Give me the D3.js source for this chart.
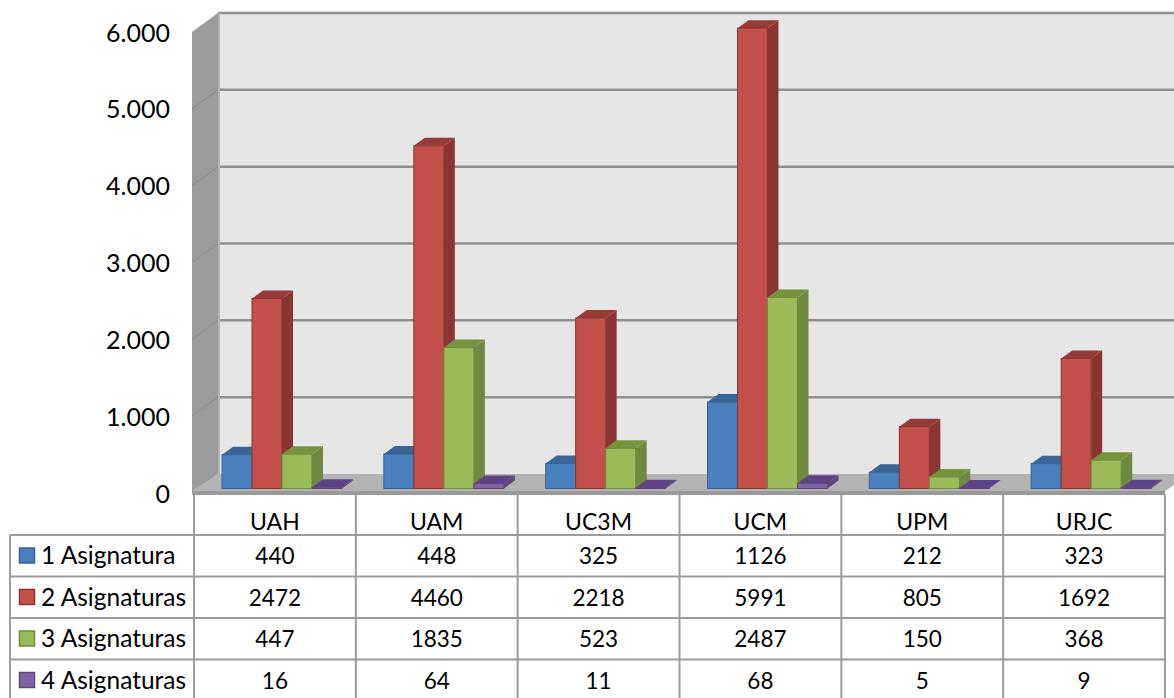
<!DOCTYPE html>
<html>
<head>
<meta charset="utf-8">
<script src="https://cdn.jsdelivr.net/npm/d3@7"></script>
<style>
    html, body { margin: 0; padding: 0; background: #fff; overflow: hidden; }
    text { font-family: Lato, "Open Sans", sans-serif; fill: #000; }
    .y-axis path, .y-axis line { display: none; }
</style>
</head>
<body>
<div id="chart"></div>
<script>
// Data
const universities = ['UAH', 'UAM', 'UC3M', 'UCM', 'UPM', 'URJC'];
const seriesNames = ['1 Asignatura', '2 Asignaturas', '3 Asignaturas', '4 Asignaturas'];
const asignatura1 = [440, 448, 325, 1126, 212, 323];
const asignatura2 = [2472, 4460, 2218, 5991, 805, 1692];
const asignatura3 = [447, 1835, 523, 2487, 150, 368];
const asignatura4 = [16, 64, 11, 68, 5, 9];
const seriesValues = [asignatura1, asignatura2, asignatura3, asignatura4];
const yTicks = [0, 1000, 2000, 3000, 4000, 5000, 6000];

const width = 1174;
const height = 698;

// Colors per series: front, side, top
const frontColors = ['#4a80c0', '#c4504c', '#9bbb59', '#8064a2'];
const sideColors = ['#37618f', '#8b3533', '#6f8a3e', '#5b4676'];
const topColors = ['#3a6597', '#973b38', '#77933c', '#5f4388'];

// 3D offsets of the back plane and of the bars
const depthX = 26, depthY = 19;
const barDepthX = 11, barDepthY = 8;
const barLift = 4.5;

const svg = d3.select('#chart').append('svg')
    .attr('width', width)
    .attr('height', height);

// Scales
const yScale = d3.scaleLinear().domain([0, 6000]).range([493, 32]);
const xScale = d3.scaleBand().domain(universities).range([194, 1165]);
const seriesScale = d3.scaleBand().domain(d3.range(seriesNames.length)).range([28, 148]);

const left = xScale.range()[0];
const right = xScale.range()[1];
const poly = pts => pts.map(p => p.join(',')).join(' ');

// Walls and floor
svg.append('rect')
    .attr('x', left + depthX - 2).attr('y', yScale(6000) - depthY)
    .attr('width', width).attr('height', yScale(0) - yScale(6000))
    .attr('fill', '#e6e6e6');

svg.append('polygon')
    .attr('points', poly([[left - 2, yScale(6000)], [left + depthX - 2, yScale(6000) - depthY],
        [left + depthX - 2, yScale(0) - depthY], [left - 2, yScale(0)]]))
    .attr('fill', '#9b9b9b');

svg.append('polygon')
    .attr('points', poly([[left - 2, yScale(0) - 2], [left + depthX - 2, yScale(0) - depthY],
        [right + depthX, yScale(0) - depthY], [right, yScale(0) - 2]]))
    .attr('fill', '#b3b3b3');

svg.append('rect')
    .attr('x', left - 2).attr('y', yScale(0) - 2)
    .attr('width', right - left + 2).attr('height', 4)
    .attr('fill', '#999');

// Gridlines on back plane and left wall
svg.selectAll('.grid')
    .data(yTicks.slice(1))
    .enter().append('line')
    .attr('class', 'grid')
    .attr('x1', left + depthX - 2).attr('x2', width)
    .attr('y1', d => yScale(d) - depthY).attr('y2', d => yScale(d) - depthY)
    .attr('stroke', '#8f8f8f').attr('stroke-width', 2.5);

svg.selectAll('.wall-grid')
    .data(yTicks.slice(1, -1))
    .enter().append('line')
    .attr('class', 'wall-grid')
    .attr('x1', left - 2).attr('x2', left + depthX - 2)
    .attr('y1', d => yScale(d)).attr('y2', d => yScale(d) - depthY)
    .attr('stroke', '#8a8a8a').attr('stroke-width', 1);

svg.append('line')
    .attr('x1', left + depthX - 1).attr('x2', left + depthX - 1)
    .attr('y1', yScale(6000) - depthY).attr('y2', yScale(0) - depthY)
    .attr('stroke', '#b5b5b5').attr('stroke-width', 2);

// Bars, drawn left to right so later fronts cover earlier sides
universities.forEach((uni, c) => {
    seriesNames.forEach((name, s) => {
        const x0 = xScale(uni) + seriesScale(s);
        const x1 = x0 + seriesScale.bandwidth();
        const yTop = yScale(seriesValues[s][c]) - barLift;
        const yBase = yScale(0) - barLift;

        const bar = svg.append('g').attr('class', 'bar');
        bar.append('polygon')
            .attr('points', poly([[x1, yTop], [x1 + barDepthX, yTop - barDepthY],
                [x1 + barDepthX, yBase - barDepthY], [x1, yBase]]))
            .attr('fill', sideColors[s]);
        bar.append('polygon')
            .attr('points', poly([[x0, yTop], [x0 + barDepthX, yTop - barDepthY],
                [x1 + barDepthX, yTop - barDepthY], [x1, yTop]]))
            .attr('fill', topColors[s]);
        bar.append('rect')
            .attr('x', x0).attr('y', yTop)
            .attr('width', x1 - x0).attr('height', yBase - yTop)
            .attr('fill', frontColors[s])
            .attr('stroke', sideColors[s]).attr('stroke-width', 1);
    });
});

// Y axis labels with dot as thousands separator
const esLocale = d3.formatLocale({ decimal: ',', thousands: '.', grouping: [3], currency: ['', '€'] });
svg.append('g')
    .attr('class', 'y-axis')
    .attr('transform', 'translate(170,1)')
    .call(d3.axisLeft(yScale).tickValues(yTicks).tickSize(0).tickPadding(0)
        .tickFormat(d => d === 0 ? '0' : esLocale.format(',')(d)))
    .selectAll('text')
    .attr('font-size', 25)
    .style('font-family', 'Lato, sans-serif');

// Data table
const rowTop = 535;
const rowHeight = 41.5;
const legendLeft = 10;
const lineColor = '#9c9c9c';
const rowLines = d3.range(seriesNames.length + 1).map(i => rowTop + i * rowHeight);
const columnLines = universities.map(u => xScale(u)).concat([right]);

svg.selectAll('.row-line')
    .data(rowLines)
    .enter().append('line')
    .attr('class', 'row-line')
    .attr('x1', legendLeft).attr('x2', right)
    .attr('y1', d => d).attr('y2', d => d)
    .attr('stroke', lineColor).attr('stroke-width', 2);

svg.selectAll('.col-line')
    .data(columnLines)
    .enter().append('line')
    .attr('class', 'col-line')
    .attr('x1', d => d).attr('x2', d => d)
    .attr('y1', yScale(0) + 2).attr('y2', height)
    .attr('stroke', lineColor).attr('stroke-width', 2);

svg.append('line')
    .attr('x1', legendLeft).attr('x2', legendLeft)
    .attr('y1', rowTop).attr('y2', height)
    .attr('stroke', lineColor).attr('stroke-width', 2);

svg.selectAll('.uni-label')
    .data(universities)
    .enter().append('text')
    .attr('class', 'uni-label')
    .attr('x', d => xScale(d) + xScale.bandwidth() / 2)
    .attr('y', rowTop - 5)
    .attr('text-anchor', 'middle')
    .attr('font-size', 23)
    .text(d => d);

seriesNames.forEach((name, s) => {
    const rowY = rowTop + s * rowHeight;

    // Legend key and name
    svg.append('rect')
        .attr('x', 19.5).attr('y', rowY + 13)
        .attr('width', 15).attr('height', 15)
        .attr('fill', frontColors[s])
        .attr('stroke', sideColors[s]).attr('stroke-width', 1.5);

    svg.append('text')
        .attr('x', 41).attr('y', rowY + 29)
        .attr('font-size', 24.5)
        .text(name);

    svg.selectAll(`.value-${s}`)
        .data(seriesValues[s])
        .enter().append('text')
        .attr('class', `value-${s}`)
        .attr('x', (d, i) => xScale(universities[i]) + xScale.bandwidth() / 2)
        .attr('y', rowY + 29)
        .attr('text-anchor', 'middle')
        .attr('font-size', 22.5)
        .text(d => d);
});
</script>
</body>
</html>
